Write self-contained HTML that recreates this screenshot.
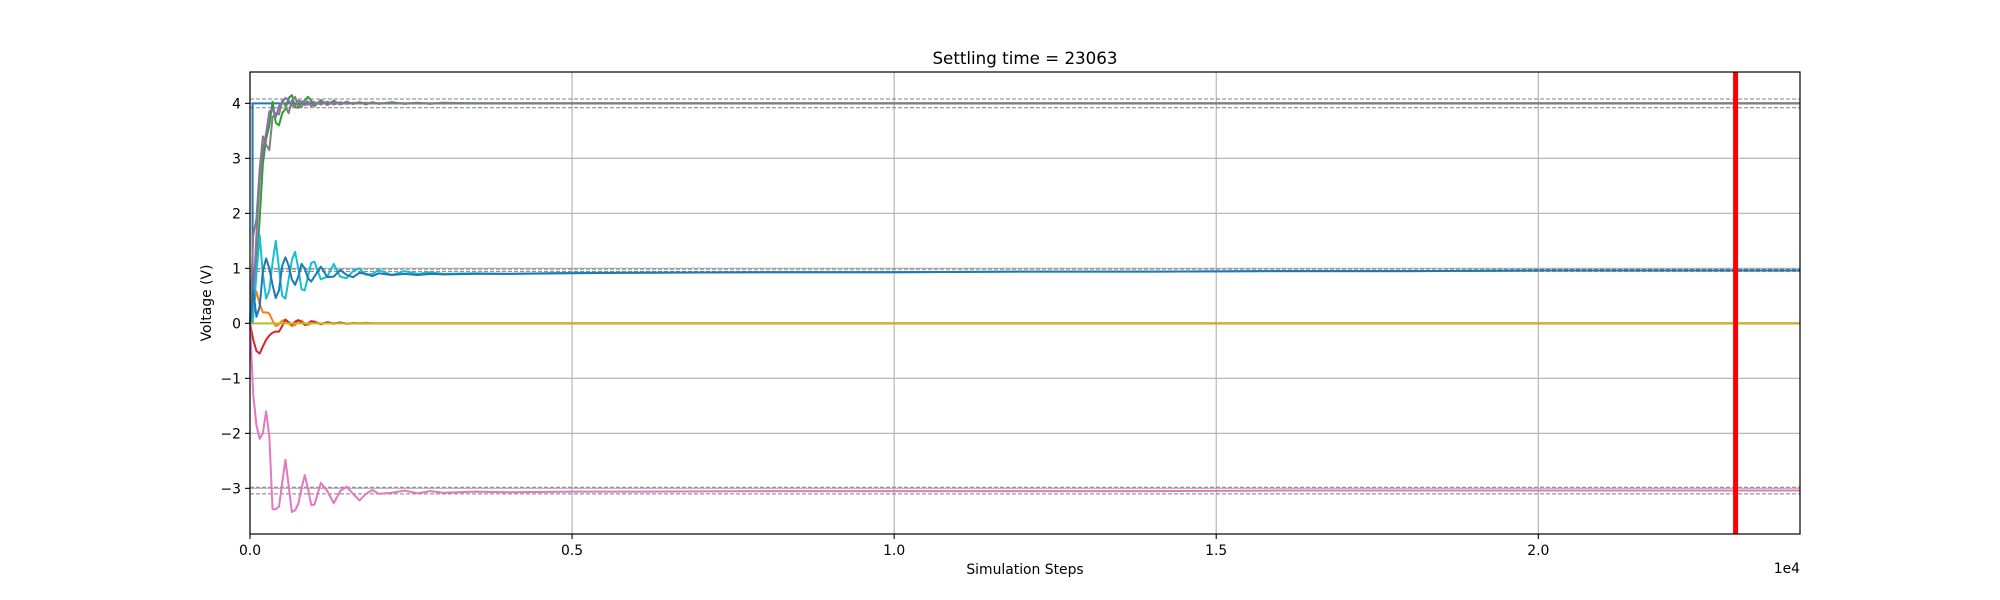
<!DOCTYPE html>
<html><head><meta charset="utf-8"><style>
body{margin:0;background:#fff}
svg{display:block;font-family:"DejaVu Sans","Liberation Sans",sans-serif}
</style></head><body>
<svg id="chart" width="2000" height="600" viewBox="0 0 2000 600" xmlns="http://www.w3.org/2000/svg">
<rect x="0" y="0" width="2000" height="600" fill="#fff"/>
<g id="grid"></g>
<g id="bands"></g>
<g id="series"></g>
<g id="marker"></g>
<rect x="250" y="72" width="1550" height="462" fill="none" stroke="#000" stroke-width="1.2"/>
<g id="ticks"></g>
<text x="1025" y="64" text-anchor="middle" font-size="16.7">Settling time = 23063</text>
<text x="1025" y="574" text-anchor="middle" font-size="13.9">Simulation Steps</text>
<text x="1800" y="573" text-anchor="end" font-size="13.9">1e4</text>
<text transform="translate(211,303) rotate(-90)" text-anchor="middle" font-size="13.9">Voltage (V)</text>
</svg>
<script>
const T = [0,50,100,150,200,250,300,350,400,450,500,550,600,650,700,750,800,850,900,950,1000,1100,1200,1300,1400,1500,1600,1700,1800,1900,2000,2200,2400,2600,2800,3000,3500,4000,5000,6000,8000,10000,12000,14000,16000,18000,20000,22000,24063];
const cyanV = [0,0.1,0.9,1.6,0.9,0.45,0.6,1.1,1.5,1.0,0.5,0.45,0.8,1.15,1.3,1.0,0.62,0.6,0.85,1.1,1.12,0.8,0.85,1.08,0.85,0.82,0.95,1.0,0.88,0.9,0.97,0.88,0.95,0.9,0.93,0.9,0.91,0.9,0.92,0.92,0.93,0.93,0.94,0.94,0.95,0.95,0.96,0.96,0.96];
const blueV = [0,0.6,0.12,0.3,0.95,1.18,1.0,0.7,0.46,0.6,1.05,1.2,1.05,0.8,0.7,0.85,1.08,1.0,0.82,0.76,0.85,1.03,0.84,0.85,0.97,0.88,0.84,0.92,0.9,0.86,0.91,0.88,0.9,0.88,0.9,0.89,0.9,0.9,0.91,0.92,0.93,0.93,0.94,0.94,0.95,0.95,0.96,0.96,0.96];
const orangeV = [0,0.3,0.58,0.35,0.2,0.2,0.18,0.05,-0.05,-0.02,0.05,0.06,0,-0.05,-0.03,0.04,0.05,0,-0.03,0,0.03,-0.02,0.02,-0.01,0.015,-0.01,0.01,0,0.01,0,0,0,0,0,0,0,0,0,0,0,0,0,0,0,0,0,0,0,0];
const redV = [0,-0.3,-0.5,-0.55,-0.42,-0.3,-0.22,-0.17,-0.15,-0.15,-0.05,0.07,0.02,-0.02,0.03,0.06,0.02,-0.03,0,0.04,0.03,-0.01,0.02,0,0.015,-0.005,0,0,0,0,0,0,0,0,0,0,0,0,0,0,0,0,0,0,0,0,0,0,0];
const greenV = [0,0.2,1.0,1.9,2.9,3.35,3.6,4.03,3.65,3.6,3.82,3.9,4.1,4.15,3.93,3.92,4.02,4.05,4.12,4.05,3.95,4.06,3.97,4.05,3.98,4.03,3.99,4.02,3.98,4.02,3.99,4.02,3.99,4.01,3.99,4.01,4,4,4,4,4,4,4,4,4,4,4,4,4];
const purpleV = [0,0.4,1.6,2.6,3.15,3.45,3.85,3.9,3.75,3.95,4.02,4.1,4.05,3.96,3.95,4.05,4.03,3.97,3.98,4.04,4.02,3.98,4.03,3.98,4.02,3.99,4.01,4,4.01,4,4,4,4,4,4,4,4,4,4,4,4,4,4,4,4,4,4,4,4];
const grayV = [0,1.6,1.9,2.8,3.4,3.25,3.15,3.75,3.82,3.8,4.05,3.95,3.82,4.05,4.12,3.95,3.93,4.05,4.03,3.95,3.98,4.04,3.97,4.03,3.98,4.02,3.99,4.02,3.99,4.01,4,4,4,4,4,4,4,4,4,4,4,4,4,4,4,4,4,4,4];
const pinkV = [0,-1.3,-1.85,-2.1,-2.0,-1.6,-2.05,-3.38,-3.38,-3.33,-2.9,-2.48,-2.95,-3.43,-3.4,-3.28,-3.0,-2.76,-3.0,-3.3,-3.3,-2.9,-3.05,-3.27,-3.05,-2.97,-3.1,-3.22,-3.1,-3.03,-3.1,-3.08,-3.04,-3.09,-3.05,-3.08,-3.06,-3.07,-3.06,-3.06,-3.05,-3.05,-3.05,-3.05,-3.04,-3.04,-3.04,-3.04,-3.04];
const oliveV = T.map(() => 0);
const stepT = [0,40,40,24063];
const stepV = [0,0,4,4];
const bandLevels = [4.08,3.92,0.985,0.945,-2.98,-3.10];
const settlingTime = 23063;
const xTicks = [0,5000,10000,15000,20000];
const xTickLabels = ["0.0","0.5","1.0","1.5","2.0"];
const yTicks = [-3,-2,-1,0,1,2,3,4];
const yTickLabels = ["\u22123","\u22122","\u22121","0","1","2","3","4"];

const L=250,R=1800,TOP=72,B=534,XMIN=0,XMAX=24063,YMIN=-3.83,YMAX=4.57;
const sx = t => L + (t-XMIN)/(XMAX-XMIN)*(R-L);
const sy = v => B - (v-YMIN)/(YMAX-YMIN)*(B-TOP);
const NS="http://www.w3.org/2000/svg";
function mk(tag, parent){const e=document.createElementNS(NS,tag);parent.appendChild(e);return e;}
const grid=document.getElementById('grid'), ticks=document.getElementById('ticks');
xTicks.forEach((t,i)=>{
  const g=mk('line',grid);
  
  
  g.setAttribute('x1',sx(t));g.setAttribute('x2',sx(t));g.setAttribute('y1',TOP);g.setAttribute('y2',B);
  g.setAttribute('stroke','#b0b0b0');g.setAttribute('stroke-width','1.1');
  const tk=mk('line',ticks);
  
  
  tk.setAttribute('x1',sx(t));tk.setAttribute('x2',sx(t));tk.setAttribute('y1',B);tk.setAttribute('y2',B+5);
  tk.setAttribute('stroke','#000');tk.setAttribute('stroke-width','1.1');
  const tx=mk('text',ticks);
  
  
  tx.setAttribute('x',sx(t));tx.setAttribute('y',B+21);tx.setAttribute('text-anchor','middle');tx.setAttribute('font-size','13.9');
  tx.textContent=xTickLabels[i];
});
yTicks.forEach((v,i)=>{
  const g=mk('line',grid);
  
  
  g.setAttribute('x1',L);g.setAttribute('x2',R);g.setAttribute('y1',sy(v));g.setAttribute('y2',sy(v));
  g.setAttribute('stroke','#b0b0b0');g.setAttribute('stroke-width','1.1');
  const tk=mk('line',ticks);
  
  
  tk.setAttribute('x1',L-5);tk.setAttribute('x2',L);tk.setAttribute('y1',sy(v));tk.setAttribute('y2',sy(v));
  tk.setAttribute('stroke','#000');tk.setAttribute('stroke-width','1.1');
  const tx=mk('text',ticks);
  
  
  tx.setAttribute('x',L-9);tx.setAttribute('y',sy(v)+5);tx.setAttribute('text-anchor','end');tx.setAttribute('font-size','13.9');
  tx.textContent=yTickLabels[i];
});
const bands=document.getElementById('bands');
bandLevels.forEach(v=>{
  const b=mk('line',bands);
  
  
  b.setAttribute('x1',L);b.setAttribute('x2',R);b.setAttribute('y1',sy(v));b.setAttribute('y2',sy(v));
  b.setAttribute('stroke','#808080');b.setAttribute('stroke-width','1');b.setAttribute('stroke-dasharray','4,2');
});
const ser=document.getElementById('series');
function line(ts,vs,color,name){
  const p=mk('polyline',ser);
  
  
  p.setAttribute('points',ts.map((t,i)=>sx(t).toFixed(2)+','+sy(vs[i]).toFixed(2)).join(' '));
  p.setAttribute('fill','none');p.setAttribute('stroke',color);p.setAttribute('stroke-width','2');p.setAttribute('stroke-linejoin','round');
}
line(stepT,stepV,'#1f77b4','reference-step-line');
line(T,orangeV,'#ff7f0e','orange-series');
line(T,greenV,'#2ca02c','green-series');
line(T,redV,'#d62728','red-series');
line(T,purpleV,'#9467bd','purple-series');
line(T,pinkV,'#e377c2','pink-series');
line(T,grayV,'#7f7f7f','gray-series');
line(T,oliveV,'#bcbd22','olive-series');
line(T,cyanV,'#17becf','cyan-series');
line(T,blueV,'#1f77b4','blue-series');
const m=mk('line',document.getElementById('marker'));


m.setAttribute('x1',sx(settlingTime));m.setAttribute('x2',sx(settlingTime));m.setAttribute('y1',TOP);m.setAttribute('y2',B);
m.setAttribute('stroke','#ff0000');m.setAttribute('stroke-width','5');
</script>
</body></html>
